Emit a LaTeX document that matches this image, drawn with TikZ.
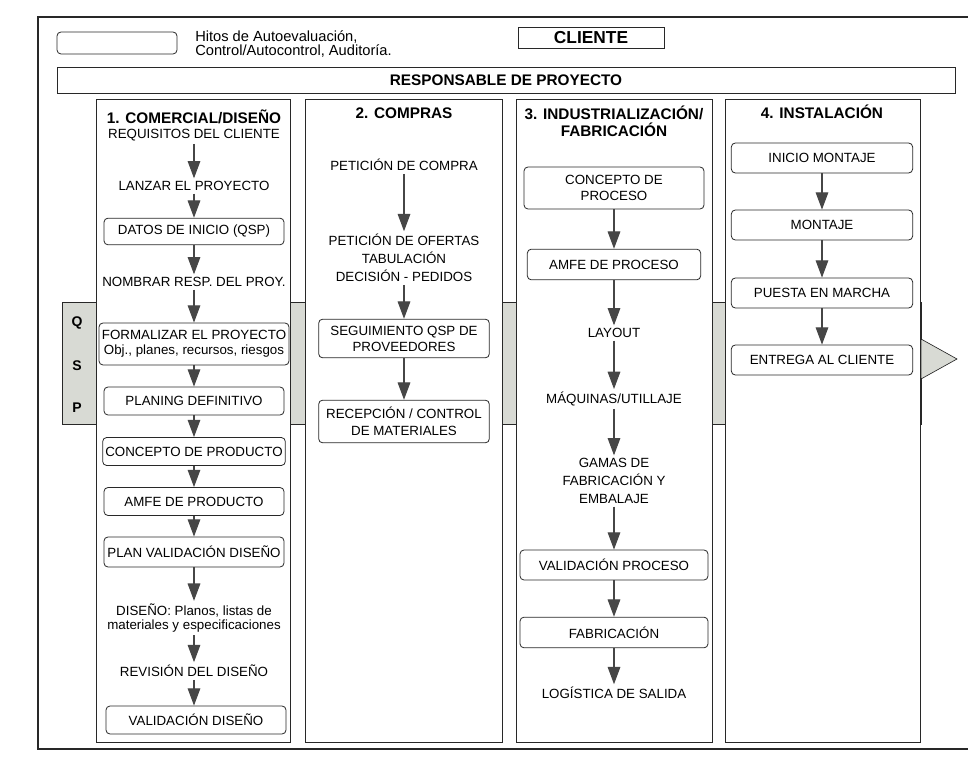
\documentclass[tikz,border=0pt]{standalone}
\usepackage{fontspec}
\setmainfont{Liberation Sans}
\usetikzlibrary{arrows.meta}

\definecolor{tinta}{RGB}{40,40,40}
\definecolor{flechagris}{RGB}{70,70,70}
\definecolor{bandagris}{RGB}{216,218,212}

\begin{document}
\begin{tikzpicture}[x=0.75pt,y=0.75pt,yscale=-1,xscale=1,
  marco/.style={draw=tinta,line width=1pt},
  columna/.style={draw=tinta,line width=0.6pt,fill=white},
  banda/.style={draw=tinta,line width=0.5pt,fill=bandagris},
  caja/.style={draw=tinta,line width=0.6pt,rounded corners=3pt,fill=white,align=center,inner sep=2pt,minimum width=135pt,minimum height=21pt,font=\fontsize{10}{12}\selectfont},
  texto/.style={align=center,inner sep=2pt,font=\fontsize{10}{12}\selectfont},
  titulo/.style={align=center,inner sep=1pt,font=\bfseries\fontsize{11.5}{13}\selectfont},
  letra/.style={inner sep=0pt,font=\bfseries\fontsize{10.5}{12}\selectfont},
  flecha/.style={draw=flechagris,line width=0.8pt,-{Triangle[width=9.5pt,length=13pt]}}]
\useasboundingbox (0,0) rectangle (968,766);

%Shape: Frame
\draw[marco] (968,17) -- (38,17) -- (38,749) -- (968,749);

% Legend
\node[caja,minimum width=90pt,minimum height=16.5pt] (hito) at (117,43) {};
\node[anchor=west,align=left,inner sep=0pt,font=\fontsize{11}{10}\selectfont] (leyenda) at (195,44) {Hitos de Autoevaluación,\\Control/Autocontrol, Auditoría.};
\node[draw=tinta,line width=0.6pt,titulo,font=\bfseries\fontsize{13}{14}\selectfont,minimum width=109.5pt,minimum height=15.75pt] (cliente) at (591,38) {CLIENTE};
\node[draw=tinta,line width=0.6pt,titulo,minimum width=673.5pt,minimum height=19.5pt] (resp) at (506,80) {RESPONSABLE DE PROYECTO};

%Shape: QSP band
\draw[banda] (62,302) rectangle (921,424);
\draw[banda] (921,339) -- (957,359) -- (921,379) -- cycle;
\node[letra] (q) at (77,323) {Q};
\node[letra] (s) at (77,366) {S};
\node[letra] (p) at (77,408) {P};

%Shape: Columns
\draw[columna] (96,99) rectangle (290,742);
\draw[columna] (305,99) rectangle (502,742);
\draw[columna] (516,99) rectangle (712,742);
\draw[columna] (725,99) rectangle (920,742);

% 1. Comercial / Diseno
\node[titulo] (tit1) at (194,117) {1. COMERCIAL/DISEÑO};
\node[texto] (req) at (194,135) {REQUISITOS DEL CLIENTE};
\node[texto] (lanzar) at (194,186) {LANZAR EL PROYECTO};
\node[caja,minimum height=20pt] (datos) at (194,231.5) {DATOS DE INICIO (QSP)};
\node[texto] (nombrar) at (194,282) {NOMBRAR RESP. DEL PROY.};
\node[caja,minimum width=142.5pt,minimum height=31.5pt,font=\fontsize{10}{11.5}\selectfont] (formal) at (194,344) {FORMALIZAR EL PROYECTO\\Obj., planes, recursos, riesgos};
\node[caja] (planing) at (194,401) {PLANING DEFINITIVO};
\node[caja] (conprod) at (194,451.5) {CONCEPTO DE PRODUCTO};
\node[caja] (amfeprod) at (194,501.5) {AMFE DE PRODUCTO};
\node[caja,minimum height=22.5pt] (planval) at (194,552) {PLAN VALIDACIÓN DISEÑO};
\node[texto,font=\fontsize{10}{10.5}\selectfont] (diseno) at (194,618) {DISEÑO: Planos, listas de\\materiales y especificaciones};
\node[texto] (revision) at (194,671) {REVISIÓN DEL DISEÑO};
\node[caja] (valdis) at (196,720) {VALIDACIÓN DISEÑO};

\draw[flecha] (req) -- (lanzar);
\draw[flecha] (lanzar) -- (datos);
\draw[flecha] (datos) -- (nombrar);
\draw[flecha] (nombrar) -- (formal);
\draw[flecha] (formal) -- (planing);
\draw[flecha] (planing) -- (conprod);
\draw[flecha] (conprod) -- (amfeprod);
\draw[flecha] (amfeprod) -- (planval);
\draw[flecha] (planval) -- (diseno);
\draw[flecha] (diseno) -- (revision);
\draw[flecha] (revision) -- (valdis.north -| revision);

% 2. Compras
\node[titulo] (tit2) at (404,113) {2. COMPRAS};
\node[texto] (petcompra) at (404,165) {PETICIÓN DE COMPRA};
\node[texto,font=\fontsize{10}{13.5}\selectfont] (ofertas) at (404,258) {PETICIÓN DE OFERTAS\\TABULACIÓN\\DECISIÓN - PEDIDOS};
\node[caja,minimum width=128pt,minimum height=29pt] (seguim) at (404,338.5) {SEGUIMIENTO QSP DE\\PROVEEDORES};
\node[caja,minimum width=128pt,minimum height=32pt,font=\fontsize{10}{12.5}\selectfont] (recep) at (404,421.5) {RECEPCIÓN / CONTROL\\DE MATERIALES};

\draw[flecha] (petcompra) -- (ofertas);
\draw[flecha] (ofertas) -- (seguim);
\draw[flecha] (seguim) -- (recep);

% 3. Industrializacion / Fabricacion
\node[titulo] (tit3) at (614,121) {3. INDUSTRIALIZACIÓN/\\FABRICACIÓN};
\node[caja,minimum height=31.5pt] (conproc) at (614,188) {CONCEPTO DE\\PROCESO};
\node[caja,minimum width=130pt,minimum height=23pt] (amfeproc) at (614,264.5) {AMFE DE PROCESO};
\node[texto] (layout) at (614,333) {LAYOUT};
\node[texto] (maquinas) at (614,399) {MÁQUINAS/UTILLAJE};
\node[texto,font=\fontsize{10}{13.5}\selectfont] (gamas) at (614,481) {GAMAS DE\\FABRICACIÓN Y\\EMBALAJE};
\node[caja,minimum width=141pt,minimum height=22.5pt] (valproc) at (614,565) {VALIDACIÓN PROCESO};
\node[caja,minimum width=141pt,minimum height=23pt] (fabric) at (614,632.5) {FABRICACIÓN};
\node[texto] (logistica) at (614,693) {LOGÍSTICA DE SALIDA};

\draw[flecha] (conproc) -- (amfeproc);
\draw[flecha] (amfeproc) -- (layout);
\draw[flecha] (layout) -- (maquinas);
\draw[flecha] (maquinas) -- (gamas);
\draw[flecha] (gamas) -- (valproc);
\draw[flecha] (valproc) -- (fabric);
\draw[flecha] (fabric) -- (logistica);

% 4. Instalacion
\node[titulo] (tit4) at (822,112) {4. INSTALACIÓN};
\node[caja,minimum width=136pt,minimum height=22.5pt] (inicio) at (822,158) {INICIO MONTAJE};
\node[caja,minimum width=136pt,minimum height=22.5pt] (montaje) at (822,225) {MONTAJE};
\node[caja,minimum width=136pt,minimum height=22.5pt] (puesta) at (822,293) {PUESTA EN MARCHA};
\node[caja,minimum width=136pt,minimum height=22.5pt] (entrega) at (822,360) {ENTREGA AL CLIENTE};

\draw[flecha] (inicio) -- (montaje);
\draw[flecha] (montaje) -- (puesta);
\draw[flecha] (puesta) -- (entrega);

\end{tikzpicture}
\end{document}
